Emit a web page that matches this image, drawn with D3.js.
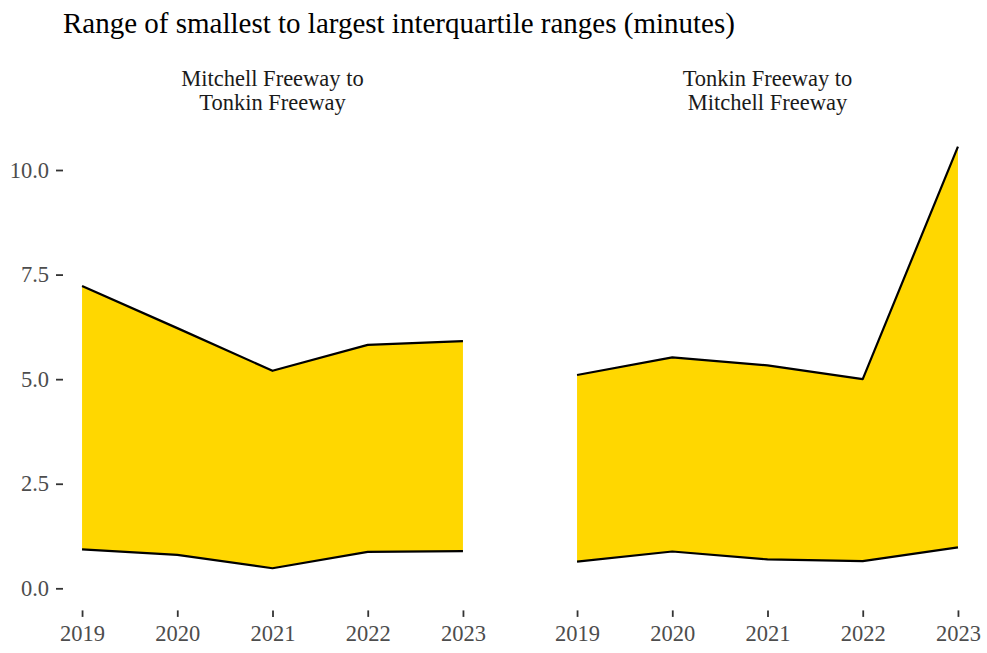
<!DOCTYPE html>
<html>
<head>
<meta charset="utf-8">
<script src="https://cdn.jsdelivr.net/npm/d3@7"></script>
<style>
  html, body { margin: 0; padding: 0; background: #ffffff; }
  svg { display: block; }
  text { font-family: "Liberation Serif", "Times New Roman", serif; }
</style>
</head>
<body>
<svg id="chart" width="987" height="653"></svg>
<script>
// ---- data ----
const years = [2019, 2020, 2021, 2022, 2023];
const panels = ["Mitchell Freeway to\nTonkin Freeway", "Tonkin Freeway to\nMitchell Freeway"];
const mitchellToTonkinLow  = [0.93, 0.80, 0.48, 0.87, 0.89];
const mitchellToTonkinHigh = [7.23, 6.22, 5.20, 5.82, 5.91];
const tonkinToMitchellLow  = [0.64, 0.88, 0.69, 0.65, 0.98];
const tonkinToMitchellHigh = [5.10, 5.52, 5.33, 5.00, 10.56];
const yTicks = [0, 2.5, 5, 7.5, 10];
const titleText = "Range of smallest to largest interquartile ranges (minutes)";

const series = [
  { label: panels[0], low: mitchellToTonkinLow, high: mitchellToTonkinHigh },
  { label: panels[1], low: tonkinToMitchellLow, high: tonkinToMitchellHigh }
];

// ---- layout ----
const svg = d3.select("#chart");
const panelTop = 124.5, panelBottom = 610.4;
const panelX = [[63, 482], [558, 977]];

const yMax = d3.max(series, s => d3.max(s.high));
const pad = 0.05 * yMax;
const y = d3.scaleLinear().domain([0 - pad, yMax + pad]).range([panelBottom, panelTop]);

// title
svg.append("text")
  .attr("x", 63).attr("y", 33)
  .attr("font-size", 29).attr("fill", "#000")
  .text(titleText);

series.forEach((s, i) => {
  const [x0, x1] = panelX[i];
  const span = years[years.length - 1] - years[0];
  const x = d3.scaleLinear()
    .domain([years[0] - 0.05 * span, years[years.length - 1] + 0.05 * span])
    .range([x0, x1]);
  const rows = years.map((yr, j) => ({ yr, lo: s.low[j], hi: s.high[j] }));
  const g = svg.append("g");

  // ribbon fill
  g.append("path")
    .datum(rows)
    .attr("fill", "#FFD700")
    .attr("d", d3.area().x(d => x(d.yr)).y0(d => y(d.lo)).y1(d => y(d.hi)));

  // outlines
  ["lo", "hi"].forEach(k => {
    g.append("path")
      .datum(rows)
      .attr("fill", "none")
      .attr("stroke", "#000")
      .attr("stroke-width", 2.2)
      .attr("stroke-linejoin", "round")
      .attr("d", d3.line().x(d => x(d.yr)).y(d => y(d[k])));
  });

  // x axis
  const xAxis = g.append("g")
    .attr("transform", `translate(0,${panelBottom})`)
    .call(d3.axisBottom(x).tickValues(years).tickFormat(d3.format("d")).tickSize(6.5).tickPadding(8));
  xAxis.select(".domain").remove();
  xAxis.selectAll(".tick line").attr("stroke", "#333333").attr("stroke-width", 1.8);
  xAxis.selectAll(".tick text")
    .attr("font-size", 22.5).attr("fill", "#4D4D4D")
    .attr("font-family", "'Liberation Serif', 'Times New Roman', serif");

  // strip label
  const lines = s.label.split("\n");
  const cx = (x0 + x1) / 2;
  const strip = g.append("text")
    .attr("text-anchor", "middle")
    .attr("font-size", 22.5).attr("fill", "#1A1A1A");
  lines.forEach((ln, j) => {
    strip.append("tspan").attr("x", cx).attr("y", 85.7 + j * 24.5).text(ln);
  });

  // y axis only on first panel
  if (i === 0) {
    const yAxis = g.append("g")
      .attr("transform", `translate(${x0},0)`)
      .call(d3.axisLeft(y).tickValues(yTicks).tickFormat(d3.format(".1f")).tickSize(7).tickPadding(7));
    yAxis.select(".domain").remove();
    yAxis.selectAll(".tick line").attr("stroke", "#333333").attr("stroke-width", 1.8);
    yAxis.selectAll(".tick text")
      .attr("font-size", 22.5).attr("fill", "#4D4D4D")
      .attr("font-family", "'Liberation Serif', 'Times New Roman', serif");
  }
});
</script>
</body>
</html>
